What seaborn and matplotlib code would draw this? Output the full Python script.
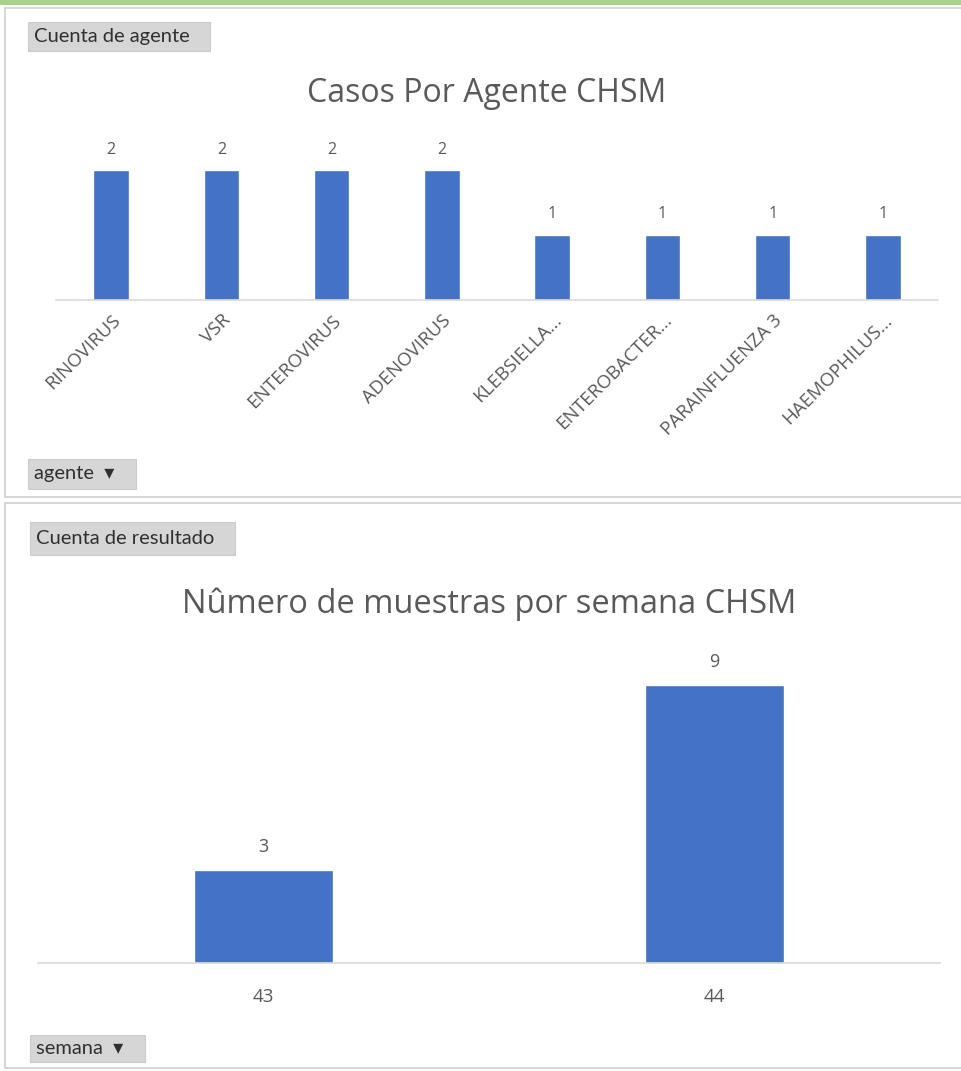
import numpy as np
import pandas as pd
import matplotlib
matplotlib.use('Agg')
import matplotlib.pyplot as plt
from matplotlib.patches import Rectangle
import seaborn as sns

# data
agentes = ['RINOVIRUS', 'VSR', 'ENTEROVIRUS', 'ADENOVIRUS', 'KLEBSIELLA...',
           'ENTEROBACTER...', 'PARAINFLUENZA 3', 'HAEMOPHILUS...']
casos = [2, 2, 2, 2, 1, 1, 1, 1]
semanas = ['43', '44']
muestras = [3, 9]

BLUE = '#4472c4'
GRAY_TXT = '#595959'
W, H = 961, 1071
CHART_FONT = ['Open Sans', 'DejaVu Sans']

sns.set_theme(style='white')
plt.rcParams['font.family'] = ['Lato', 'DejaVu Sans']


def px_axes(fig, x0, y0, x1, y1):
    # pixel box (top-left origin) -> figure axes
    ax = fig.add_axes([x0 / W, 1 - y1 / H, (x1 - x0) / W, (y1 - y0) / H])
    ax.set_zorder(5)
    ax.patch.set_alpha(0)
    return ax


def fig_rect(fig, x0, y0, x1, y1, **kw):
    fig.patches.append(Rectangle((x0 / W, 1 - y1 / H), (x1 - x0) / W, (y1 - y0) / H,
                                 transform=fig.transFigure, **kw))


def button(fig, x0, y0, x1, y1, text):
    fig_rect(fig, x0, y0, x1, y1, facecolor='#d6d6d6', edgecolor='#cccccc', lw=0.8, zorder=2)
    fig.text((x0 + 6) / W, 1 - ((y0 + y1) / 2) / H, text, ha='left', va='center',
             fontsize=14.5, color='#303030', zorder=3)


def style_ax(ax):
    sns.despine(ax=ax, left=True, top=True, right=True)
    ax.spines['bottom'].set_color('#d9d9d9')
    ax.spines['bottom'].set_linewidth(1.2)
    ax.set_yticks([])
    ax.set_xlabel('')
    ax.set_ylabel('')
    ax.tick_params(axis='x', length=0, colors=GRAY_TXT)


fig = plt.figure(figsize=(W / 100, H / 100), dpi=100)

# frame / panels
fig_rect(fig, 0, 0, W, 5, facecolor='#a9d18e', edgecolor='none', zorder=0)
fig_rect(fig, 5, 8, W + 5, 497, facecolor='white', edgecolor='#d0d0d0', lw=1.2, zorder=0)
fig_rect(fig, 5, 503, W + 5, 1068, facecolor='white', edgecolor='#d0d0d0', lw=1.2, zorder=0)

# top chart
ax1 = px_axes(fig, 56, 140, 938, 300)
df1 = pd.DataFrame({'agente': agentes, 'casos': casos})
sns.barplot(data=df1, x='agente', y='casos', color=BLUE, width=0.32,
            saturation=1, ax=ax1)
ax1.set_ylim(0, 160 / 65)
ax1.set_xlim(-0.5, len(agentes) - 0.5)
style_ax(ax1)
ax1.bar_label(ax1.containers[0], padding=9, fontsize=11.5, color=GRAY_TXT,
              family=CHART_FONT)
ax1.set_xticks(range(len(agentes)))
ax1.set_xticklabels(agentes, rotation=45, ha='right', rotation_mode='anchor',
                    fontsize=13.5, color=GRAY_TXT, family=CHART_FONT)
ax1.tick_params(axis='x', pad=8)
fig.text(487 / W, 1 - 93 / H, 'Casos Por Agente CHSM', ha='center', va='center',
         fontsize=23, color=GRAY_TXT, zorder=3, family=CHART_FONT)

# bottom chart
ax2 = px_axes(fig, 38, 640, 940, 963)
df2 = pd.DataFrame({'semana': semanas, 'muestras': muestras})
sns.barplot(data=df2, x='semana', y='muestras', color=BLUE, width=0.31,
            saturation=1, ax=ax2)
ax2.set_ylim(0, 323 / 30.9)
ax2.set_xlim(-0.5, len(semanas) - 0.5)
style_ax(ax2)
ax2.bar_label(ax2.containers[0], padding=10, fontsize=13, color=GRAY_TXT,
              family=CHART_FONT)
for lab in ax2.get_xticklabels():
    lab.set_family(CHART_FONT)
ax2.tick_params(axis='x', pad=18, labelsize=13.5)
fig.text(489 / W, 1 - 604 / H, 'Nûmero de muestras por semana CHSM', ha='center',
         va='center', fontsize=23.5, color=GRAY_TXT, zorder=3, family=CHART_FONT)

# field buttons
button(fig, 28, 22, 210, 51, 'Cuenta de agente')
button(fig, 28, 459, 136, 489, 'agente  \u25be')
button(fig, 30, 522, 235, 555, 'Cuenta de resultado')
button(fig, 30, 1035, 145, 1062, 'semana  \u25be')

fig.savefig('out.png', dpi=100)
